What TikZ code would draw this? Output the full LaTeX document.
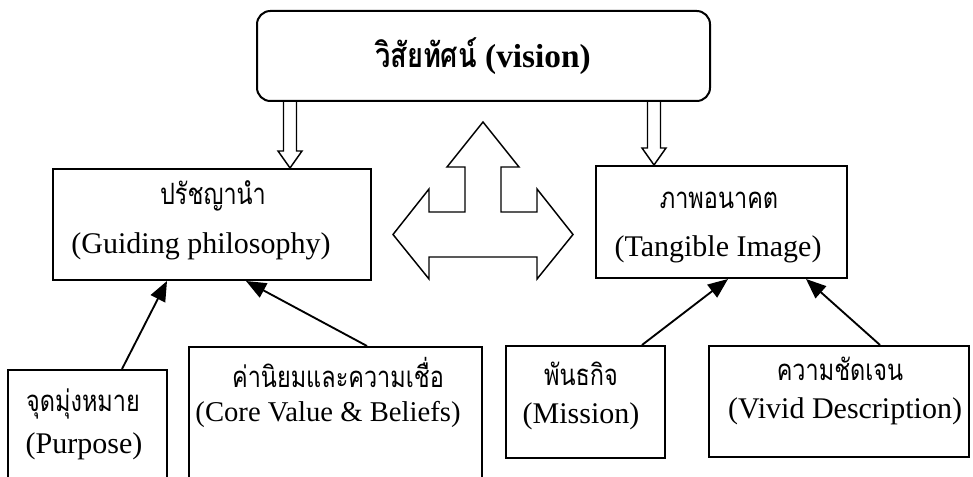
\documentclass[tikz,border=0pt]{standalone}
\usepackage{fontspec}
\setmainfont{Liberation Serif}
\newfontfamily\thaifont[Script=Thai,FakeStretch=0.8]{Loma}
\usetikzlibrary{arrows.meta}
\begin{document}
\begin{tikzpicture}[x=0.75pt,y=-0.75pt,
  box/.style={draw, line width=1.5pt, rectangle, inner sep=0pt},
  rbox/.style={box, rounded corners=10pt},
  en/.style={inner sep=0pt, font=\fontsize{22.5}{27}\selectfont},
  th/.style={inner sep=0pt, font=\thaifont\fontsize{22}{26}\selectfont},
  conn/.style={line width=1.4pt, -{Triangle[length=15pt,width=12pt]}},
  blockarr/.style={line width=1.1pt, line join=miter}]
\useasboundingbox (0,0) rectangle (973,477);
% boxes
\node[rbox, minimum width=453*0.75pt, minimum height=90*0.75pt] (vision) at (483.5,56) {};
\node[box, minimum width=318*0.75pt, minimum height=111*0.75pt] (lbox) at (212,224.5) {};
\node[box, minimum width=251*0.75pt, minimum height=112*0.75pt] (rbox) at (721.5,222) {};
\node[box, minimum width=159*0.75pt, minimum height=140*0.75pt] (purpose) at (87.5,440) {};
\node[box, minimum width=293*0.75pt, minimum height=163*0.75pt] (core) at (335.5,428.5) {};
\node[box, minimum width=159*0.75pt, minimum height=112*0.75pt] (mission) at (585.5,402) {};
\node[box, minimum width=260*0.75pt, minimum height=111*0.75pt] (vivid) at (839,401.5) {};
% texts
\node[inner sep=0pt, font=\fontsize{25}{30}\selectfont\bfseries] (tvision) at (483,56) {{\thaifont\fontsize{25.5}{30}\selectfont วิสัยทัศน์} (vision)};
\node[th] (tl1) at (213,196) {ปรัชญานำ};
\node[en] (tl2) at (201,246) {(Guiding philosophy)};
\node[th] (tr1) at (719,200) {ภาพอนาคต};
\node[en] (tr2) at (718,249) {(Tangible Image)};
\node[th] (tp1) at (83,404) {จุดมุ่งหมาย};
\node[en] (tp2) at (84,446) {(Purpose)};
\node[th] (tc1) at (338,372) {ค่านิยมและความเชื่อ};
\node[en, font=\fontsize{21.5}{26}\selectfont] (tc2) at (328,414) {(Core Value \& Beliefs)};
\node[th] (tm1) at (581,374) {พันธกิจ};
\node[en] (tm2) at (581,416) {(Mission)};
\node[th] (tv1) at (840,369) {ความชัดเจน};
\node[en] (tv2) at (845,411) {(Vivid Description)};
% hollow down arrows from vision
\draw[blockarr] (283.5,101) -- (283.5,151) -- (278,151) -- (290,168) -- (302,151) -- (296.5,151) -- (296.5,101);
\draw[blockarr] (647.5,101) -- (647.5,148) -- (642,148) -- (654,165) -- (666,148) -- (660.5,148) -- (660.5,101);
% three-way block arrow
\draw[blockarr] (393,234.5) -- (429,189) -- (429,212) -- (465,212) -- (465,167) -- (447,167) -- (483,122)
  -- (519,167) -- (501,167) -- (501,212) -- (537,212) -- (537,189) -- (573,234.5) -- (537,279)
  -- (537,257) -- (429,257) -- (429,279) -- cycle;
% connectors
\draw[conn] ([xshift=34.5*0.75pt]purpose.north) -- ([xshift=-45*0.75pt]lbox.south);
\draw[conn] ([xshift=31.5*0.75pt]core.north) -- ([xshift=34*0.75pt]lbox.south);
\draw[conn] ([xshift=56.5*0.75pt]mission.north) -- ([xshift=6.5*0.75pt]rbox.south);
\draw[conn] ([xshift=41*0.75pt]vivid.north) -- ([xshift=84.5*0.75pt]rbox.south);
\end{tikzpicture}
\end{document}
